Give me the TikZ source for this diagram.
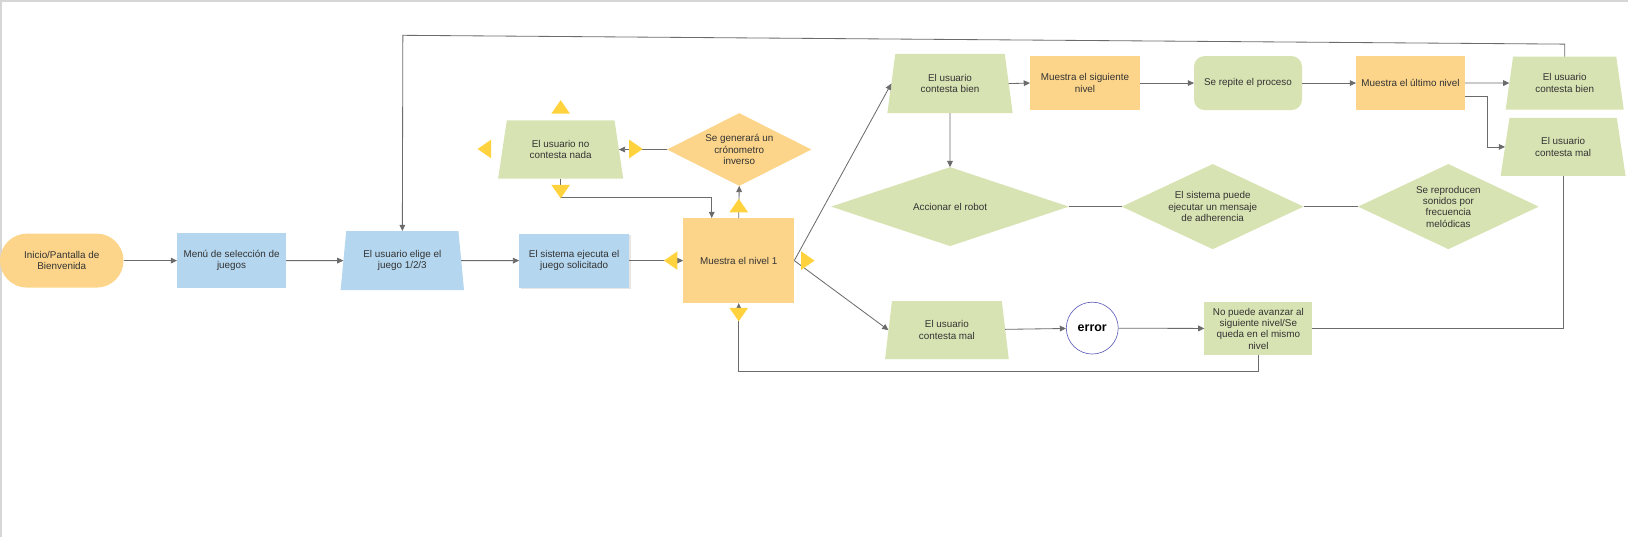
\documentclass[tikz,border=0pt]{standalone}
\usepackage{fontspec}
\setmainfont{Liberation Sans}
\usetikzlibrary{arrows.meta,shapes.geometric,shadows}
\definecolor{boxorange}{HTML}{FCD58A}
\definecolor{boxblue}{HTML}{B4D6EF}
\definecolor{boxgreen}{HTML}{D8E3B3}
\definecolor{hintyellow}{HTML}{FFD23E}
\definecolor{linegray}{HTML}{6B6B6B}
\definecolor{textgray}{HTML}{333333}
\definecolor{errblue}{HTML}{5C5CB8}
\definecolor{framegray}{HTML}{D6D6D6}
\tikzset{
  base/.style={font=\fontsize{9.5}{11}\selectfont, text=textgray, align=center, inner sep=1pt, outer sep=0pt, draw=none},
  box/.style={base, rectangle},
  trap/.style={base, trapezium, trapezium stretches=true, fill=boxgreen},
  decision/.style={base, diamond, inner sep=0pt},
  conn/.style={draw=linegray, line width=0.8pt, -{Triangle[length=6pt,width=5.5pt]}},
  plain/.style={draw=linegray, line width=0.8pt},
  hint/.pic={\fill[hintyellow] (-9,6.5) -- (9,6.5) -- (0,-6.5) -- cycle;}
}
\begin{document}
\begin{tikzpicture}[x=1pt,y=-1pt]
\useasboundingbox (0,0) rectangle (1568,517);
\draw[framegray, line width=2pt] (1,517) -- (1,1) -- (1568,1);

% fila principal
\node[box, fill=boxorange, rounded corners=26pt, minimum width=119, minimum height=52] (inicio) at (59.5,251) {Inicio/Pantalla de\\Bienvenida};
\node[box, fill=boxblue, minimum width=105, minimum height=53] (menu) at (223,251) {Menú de selección de\\juegos};
\node[trap, fill=boxblue, trapezium angle=80, minimum width=119, minimum height=57] (elige) at (387.5,251) {El usuario elige el\\juego 1/2/3};
\node[box, fill=boxblue, minimum width=106, minimum height=52, drop shadow={opacity=0.2, shadow xshift=1.5pt, shadow yshift=-1.5pt}] (sistema) at (553,251) {El sistema ejecuta el\\juego solicitado};
\node[box, fill=boxorange, minimum width=107, minimum height=82] (nivel1) at (711.5,251) {Muestra el nivel 1};

% sin respuesta
\node[trap, trapezium angle=76, minimum width=121, minimum height=56] (nocontesta) at (540,144) {El usuario no\\contesta nada};
\node[decision, aspect=2, fill=boxorange, minimum width=139, minimum height=70] (crono) at (712,144) {Se generará un\\crónometro\\inverso};

% respuesta correcta
\node[trap, trapezium angle=78, minimum width=121, minimum height=57] (bienT) at (915,80.5) {El usuario\\contesta bien};
\node[box, fill=boxorange, minimum width=106, minimum height=52] (siguiente) at (1045,80) {Muestra el siguiente\\nivel};
\node[box, fill=boxgreen, rounded corners=10pt, minimum width=104, minimum height=52] (repite) at (1202,80) {Se repite el proceso};
\node[box, fill=boxorange, minimum width=105, minimum height=52] (ultimo) at (1358.5,80) {Muestra el último nivel};
\node[trap, trapezium angle=78, minimum width=114, minimum height=51] (bienR) at (1507,80) {El usuario\\contesta bien};
\node[trap, trapezium angle=77, minimum width=121, minimum height=56] (malR) at (1505.5,141.5) {El usuario\\contesta mal};

\node[decision, aspect=3, fill=boxgreen, minimum width=229, minimum height=76] (accionar) at (915,199) {Accionar el robot};
\node[decision, aspect=2.13, fill=boxgreen, minimum width=175, minimum height=82] (puede) at (1168,199) {El sistema puede\\ejecutar un mensaje\\de adherencia};
\node[decision, aspect=2.12, fill=boxgreen, minimum width=174, minimum height=82] (reproducen) at (1395,199) {Se reproducen\\sonidos por\\frecuencia\\melódicas};

% respuesta incorrecta
\node[trap, trapezium angle=80, minimum width=120, minimum height=56] (malM) at (912,318) {El usuario\\contesta mal};
\node[circle, draw=errblue, line width=0.6pt, fill=white, minimum size=50, inner sep=0pt, font=\fontsize{12}{14}\selectfont\bfseries] (error) at (1052,316) {error};
\node[box, fill=boxgreen, minimum width=104, minimum height=51] (nopuede) at (1212,316.5) {No puede avanzar al\\siguiente nivel/Se\\queda en el mismo\\nivel};

% conectores
\draw[conn] (inicio) -- (menu);
\draw[conn] (menu) -- (elige);
\draw[conn] (elige) -- (sistema);
\draw[conn] (sistema) -- (nivel1);
\draw[conn] (nivel1.north) -- (crono.south);
\draw[conn] (crono.west) -- (nocontesta.east);
\draw[conn] (nocontesta.south) -- ++(0,18) -| ([xshift=-26pt]nivel1.north);
\draw[conn] (nivel1.east) -- (bienT.west);
\draw[conn] (nivel1.east) -- (malM.west);
\draw[conn] (bienT.east) -- (siguiente.west);
\draw[conn] (bienT.south) -- (accionar.north);
\draw[conn] (siguiente) -- (repite);
\draw[conn] (repite) -- (ultimo);
\draw[conn] (ultimo.east) -- (bienR.west);
\draw[conn] ([yshift=-13pt]ultimo.east) -- ++(22,0) |- (malR.west);
\coordinate (loopturn) at (388,34);
\draw[conn] (bienR.north) -- ++(0,-12) -- (loopturn) -- (elige.north);
\draw[plain] (accionar.east) -- (puede.west);
\draw[plain] (puede.east) -- (reproducen.west);
\draw[conn] (malM) -- (error);
\draw[conn] (error) -- (nopuede);
\draw[plain] (malR.south) |- (nopuede.east);
\draw[conn] (nopuede.south) -- ++(0,16) -| (nivel1.south);

% flechas de ayuda
\pic at (540,103) {hint};
\pic[rotate=90] at (466.5,143.5) {hint};
\pic[rotate=-90] at (612.5,143.5) {hint};
\pic[rotate=180] at (540,184.5) {hint};
\pic at (711.5,198) {hint};
\pic[rotate=90] at (646,251) {hint};
\pic[rotate=-90] at (778,251) {hint};
\pic[rotate=180] at (711.5,303) {hint};
\end{tikzpicture}
\end{document}
